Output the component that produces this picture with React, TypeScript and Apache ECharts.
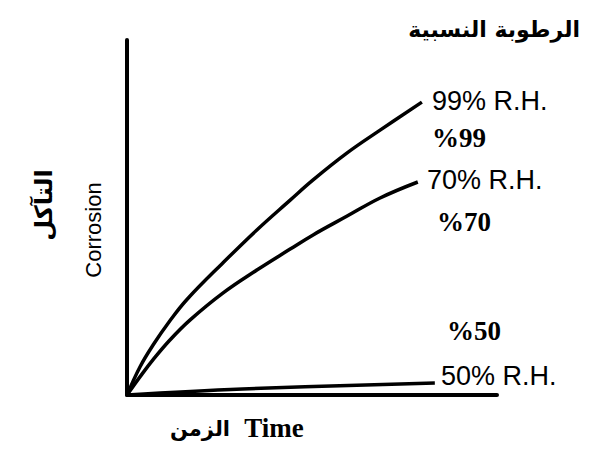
import React, { useEffect, useRef } from "react";
import * as echarts from "echarts";

// Curves: [time, corrosion] on a 0–100 relative scale
const rh99: number[][] = [
  [0, 0], [3.5, 7.9], [7.0, 14.0], [11.6, 20.9], [16.2, 26.9], [25.9, 37.2],
  [35.1, 46.5], [44.1, 54.9], [50.3, 60.6], [59.5, 68.2], [68.4, 74.6], [79.7, 82.5],
];
const rh70: number[][] = [
  [0, 0], [3.5, 5.1], [7.0, 9.9], [11.6, 15.5], [17.0, 21.1], [25.9, 28.7],
  [35.1, 35.2], [44.1, 41.1], [50.3, 45.1], [59.5, 50.4], [68.4, 55.5], [78.6, 60.0],
];
const rh50: number[][] = [
  [0, 0], [31.2, 1.7], [83.2, 3.4],
];

const seriesNames = ["99% R.H.", "70% R.H.", "50% R.H."];
const arabicLabels = ["%99", "%70", "%50"];
const titleText = "الرطوبة النسبية";
const yTitleEn = "Corrosion";
const yTitleAr = "التآكل";
const xTitleEn = "Time";
const xTitleAr = "الزمن";

export default function App() {
  const ref = useRef<HTMLDivElement>(null);
  useEffect(() => {
    if (!ref.current) return;
    const chart = echarts.init(ref.current, null, { renderer: "svg" });
    const lineStyle = { color: "#000", width: 3.5 };
    const sans = "'Liberation Sans', Arial, sans-serif";
    const serif = "'Liberation Serif', 'Times New Roman', serif";
    const arab = "'DejaVu Sans', sans-serif";
    chart.setOption({
      animation: false,
      backgroundColor: "#fff",
      grid: { left: 127, right: 103, top: 40, bottom: 65 },
      xAxis: {
        type: "value", min: 0, max: 100,
        axisLine: { show: true, lineStyle: { color: "#000", width: 4 } },
        axisTick: { show: false }, axisLabel: { show: false }, splitLine: { show: false },
      },
      yAxis: {
        type: "value", min: 0, max: 100,
        axisLine: { show: true, lineStyle: { color: "#000", width: 4 } },
        axisTick: { show: false }, axisLabel: { show: false }, splitLine: { show: false },
      },
      series: [rh99, rh70, rh50].map((d, i) => ({
        type: "line", name: seriesNames[i], data: d, smooth: 0.4,
        showSymbol: false, symbol: "none", lineStyle, z: 3,
      })),
      graphic: [
        { type: "text", right: 20, top: 18, style: { text: titleText, font: `bold 22px ${arab}`, fill: "#000" } },
        { type: "text", x: 432, y: 101, style: { text: seriesNames[0], font: `27px ${sans}`, fill: "#000", textVerticalAlign: "middle" } },
        { type: "text", x: 432, y: 138, style: { text: arabicLabels[0], font: `bold 27px ${serif}`, fill: "#000", textVerticalAlign: "middle" } },
        { type: "text", x: 427, y: 180, style: { text: seriesNames[1], font: `27px ${sans}`, fill: "#000", textVerticalAlign: "middle" } },
        { type: "text", x: 437, y: 222, style: { text: arabicLabels[1], font: `bold 27px ${serif}`, fill: "#000", textVerticalAlign: "middle" } },
        { type: "text", x: 447, y: 331, style: { text: arabicLabels[2], font: `bold 27px ${serif}`, fill: "#000", textVerticalAlign: "middle" } },
        { type: "text", x: 441, y: 376, style: { text: seriesNames[2], font: `27px ${sans}`, fill: "#000", textVerticalAlign: "middle" } },
        { type: "text", x: 93, y: 230, rotation: Math.PI / 2, style: { text: yTitleEn, font: `22px ${sans}`, fill: "#000", textAlign: "center", textVerticalAlign: "middle" } },
        { type: "text", x: 44, y: 205, rotation: Math.PI / 2, style: { text: yTitleAr, font: `bold 24px ${arab}`, fill: "#000", textAlign: "center", textVerticalAlign: "middle" } },
        { type: "text", x: 230, y: 429, style: { text: xTitleAr, font: `bold 21px ${arab}`, fill: "#000", textAlign: "right", textVerticalAlign: "middle" } },
        { type: "text", x: 274, y: 428, style: { text: xTitleEn, font: `bold 27px ${serif}`, fill: "#000", textAlign: "center", textVerticalAlign: "middle" } },
      ],
    });
    return () => chart.dispose();
  }, []);
  return <div ref={ref} style={{ position: "absolute", left: 0, top: 0, width: 600, height: 460 }} />;
}
